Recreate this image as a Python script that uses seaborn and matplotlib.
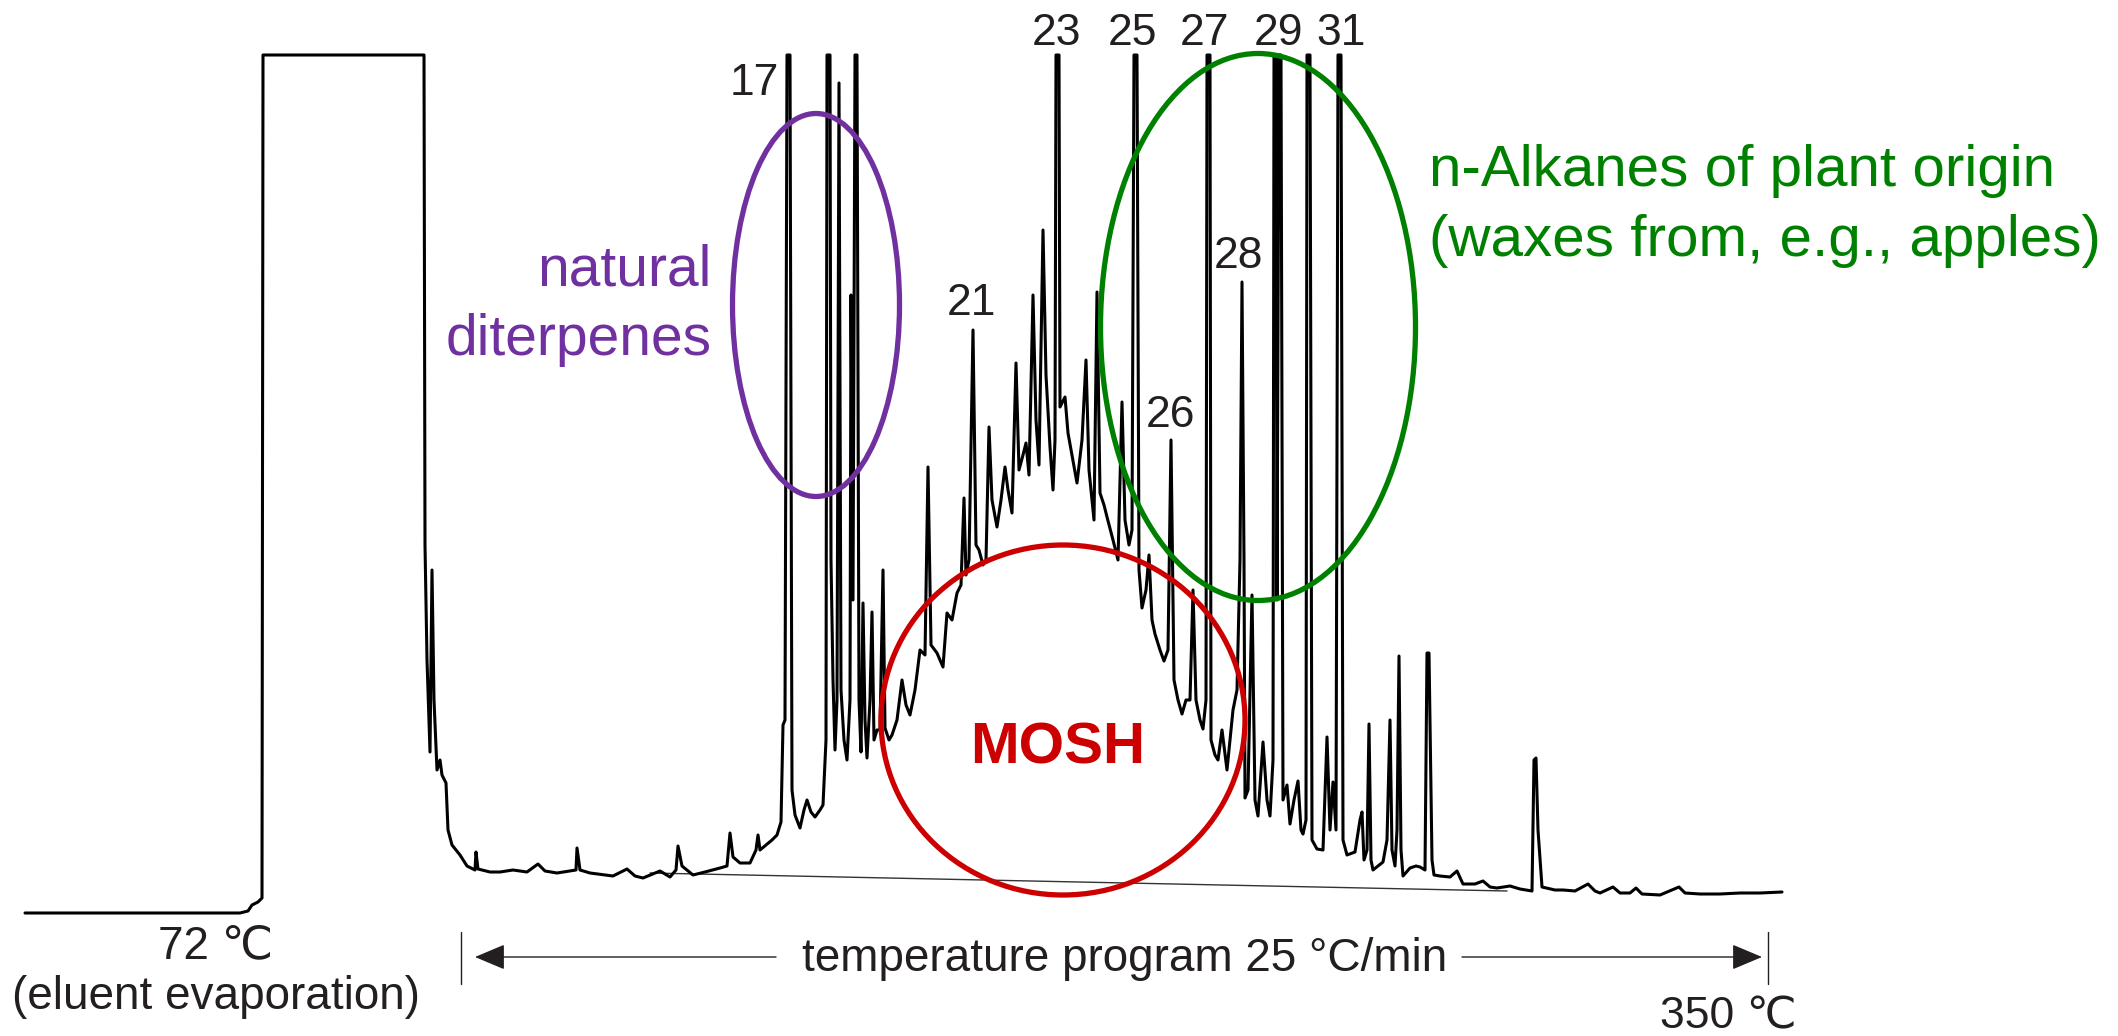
import matplotlib
matplotlib.use("Agg")
import matplotlib.pyplot as plt
import seaborn as sns
import pandas as pd
from matplotlib.patches import Ellipse, FancyArrowPatch

sns.set_theme(style="white")
plt.rcParams["font.family"] = ["Liberation Sans", "DejaVu Sans"]

# ---- chromatogram trace (x: detector scan number, y: detector response, counts) ----
scan = [0, 215, 223, 227, 233, 237, 238, 399, 400, 402, 405, 407, 409, 412, 415, 417, 421, 423,
        427, 435, 442, 450, 451, 453, 465, 475, 488, 502, 513, 520, 532, 551, 552, 555, 565, 588,
        602, 610, 618, 635, 645, 651, 653, 657, 668, 680, 695, 702, 705, 708, 715, 725, 731, 733,
        735, 741, 747, 752, 756, 758, 760, 762, 765, 767, 770, 775, 779, 782, 786, 790, 795, 798,
        801, 802, 805, 806, 808, 810, 812, 814, 816, 819, 822, 825, 826, 828, 830, 832, 834, 836,
        838, 840, 842, 845, 847, 849, 852, 855, 858, 860, 864, 867, 872, 877, 881, 885, 890, 895,
        900, 903, 906, 912, 918, 922, 927, 932, 936, 939, 941, 944, 948, 951, 954, 958, 961, 964,
        967, 972, 976, 980, 983, 987, 991, 994, 998, 1001, 1004, 1008, 1011, 1014, 1018, 1021,
        1025, 1028, 1030, 1031, 1034, 1035, 1040, 1043, 1047, 1052, 1057, 1061, 1064, 1069, 1072,
        1075, 1079, 1082, 1088, 1093, 1097, 1100, 1104, 1107, 1109, 1112, 1114, 1117, 1121, 1124,
        1127, 1130, 1135, 1139, 1143, 1146, 1149, 1153, 1157, 1161, 1165, 1168, 1171, 1175, 1178,
        1181, 1182, 1185, 1186, 1190, 1193, 1197, 1202, 1208, 1212, 1215, 1217, 1219, 1220, 1223,
        1227, 1230, 1233, 1238, 1242, 1245, 1248, 1249, 1251, 1252, 1254, 1256, 1258, 1262, 1265,
        1269, 1273, 1276, 1278, 1281, 1282, 1285, 1287, 1292, 1298, 1302, 1305, 1308, 1311, 1313,
        1316, 1318, 1322, 1330, 1335, 1337, 1339, 1342, 1344, 1346, 1348, 1353, 1358, 1362, 1365,
        1367, 1370, 1372, 1374, 1376, 1378, 1385, 1391, 1395, 1400, 1402, 1404, 1407, 1409, 1415,
        1425, 1432, 1438, 1450, 1458, 1465, 1472, 1485, 1495, 1507, 1509, 1511, 1513, 1517, 1530,
        1538, 1550, 1563, 1570, 1575, 1588, 1595, 1605, 1611, 1617, 1635, 1654, 1660, 1675, 1695,
        1715, 1735, 1757]
resp = [0, 0, 2, 8, 11, 15, 858, 858, 368, 253, 161, 343, 213, 143, 153, 138, 130, 83,
        68, 58, 47, 43, 61, 44, 41, 41, 43, 41, 49, 42, 40, 43, 65, 43, 40, 37,
        44, 37, 35, 42, 36, 43, 67, 47, 38, 41, 45, 47, 80, 56, 50, 50, 63, 78,
        63, 68, 73, 78, 91, 188, 193, 858, 858, 123, 98, 85, 103, 113, 101, 96, 103, 108,
        173, 858, 858, 353, 233, 163, 213, 830, 223, 173, 153, 213, 618, 313, 858, 858, 213, 161,
        310, 193, 155, 213, 301, 173, 183, 183, 343, 185, 173, 178, 193, 233, 208, 198, 223, 263,
        258, 446, 268, 260, 246, 300, 293, 320, 328, 415, 338, 353, 583, 368, 363, 348, 353, 486,
        413, 386, 413, 446, 423, 400, 550, 443, 458, 470, 438, 618, 493, 448, 683, 538,
        466, 423, 473, 858, 858, 506, 516, 480, 458, 430, 473, 553, 443, 393, 621,
        420, 408, 396, 373, 353, 511, 393, 368, 383, 858, 858, 343, 305, 323, 358,
        293, 279, 263, 252, 263, 473, 233, 213, 199, 213, 213, 323, 213, 193, 184,
        213, 858, 858, 173, 158, 153, 183, 143, 203, 223, 353, 631, 353, 115, 123,
        318, 113, 97, 171, 113, 97, 153, 858, 858, 313, 858, 858, 113, 128, 89,
        113, 132, 83, 79, 93, 858, 858, 73, 64, 63, 176, 83, 131, 83, 858,
        858, 73, 58, 61, 93, 101, 53, 63, 189, 53, 43, 47, 51, 73, 193,
        63, 47, 83, 257, 63, 37, 45, 47, 46, 43, 260, 260, 53, 38, 37,
        36, 42, 29, 29, 32, 26, 25, 27, 24, 22, 153, 155, 83, 26, 23,
        23, 22, 29, 22, 20, 26, 20, 20, 25, 19, 18, 26, 20, 19, 19,
        20, 20, 21]

# integration baseline under the hump
baseline_scan = [625, 1482]
baseline_resp = [40, 22]

# n-alkane / peak labels
peak_labels = ["17", "21", "23", "25", "26", "27", "28", "29", "31"]
peak_label_scan = [729, 946, 1032, 1107, 1145, 1179, 1213, 1253, 1316]
peak_label_resp = [818, 598, 868, 868, 486, 868, 645, 868, 868]

df = pd.DataFrame({"scan": scan, "resp": resp})

TXT = "#231f20"
PURPLE = "#7030a0"
GREEN = "#008000"
RED = "#cc0000"

fig = plt.figure(figsize=(21.18, 10.36), dpi=100)
ax = fig.add_axes([0, 0, 1, 1])
ax.set_xlim(-25, 2093)
ax.set_ylim(-123, 913)
ax.axis("off")

sns.lineplot(data=df, x="scan", y="resp", sort=False, estimator=None,
             color="black", linewidth=2.2, ax=ax, zorder=2)
sns.lineplot(x=baseline_scan, y=baseline_resp, sort=False, estimator=None,
             color="#333333", linewidth=1.0, ax=ax, zorder=1)

# highlight ellipses
ax.add_patch(Ellipse((791, 608), 167, 383, fill=False, ec=PURPLE, lw=3.8, zorder=3))
ax.add_patch(Ellipse((1038, 193), 364, 350, fill=False, ec=RED, lw=3.8, zorder=3))
ax.add_patch(Ellipse((1233, 586), 315, 547, fill=False, ec=GREEN, lw=3.8, zorder=3))

for lab, xs, ys in zip(peak_labels, peak_label_scan, peak_label_resp):
    ax.text(xs, ys, lab, ha="center", va="baseline", fontsize=32, color=TXT)

ax.text(687, 627, "natural", ha="right", va="baseline", fontsize=41, color=PURPLE)
ax.text(687, 558, "diterpenes", ha="right", va="baseline", fontsize=41, color=PURPLE)
ax.text(1404, 727, "n-Alkanes of plant origin", ha="left", va="baseline", fontsize=42, color=GREEN)
ax.text(1404, 657, "(waxes from, e.g., apples)", ha="left", va="baseline", fontsize=42, color=GREEN)
ax.text(1033, 150, "MOSH", ha="center", va="baseline", fontsize=42, fontweight="bold", color=RED)

ax.text(191, -45, "72 \u2103", ha="center", va="baseline", fontsize=33, color=TXT)
ax.text(191, -96, "(eluent evaporation)", ha="center", va="baseline", fontsize=33, color=TXT)
ax.text(1100, -58, "temperature program 25 \u00b0C/min", ha="center", va="baseline", fontsize=33, color=TXT)
ax.text(1703, -115, "350 \u2103", ha="center", va="baseline", fontsize=32, color=TXT)

# temperature-program arrow
ax.plot([436, 436], [-19, -71], color=TXT, lw=1.0)
ax.plot([1743, 1743], [-19, -71], color=TXT, lw=1.0)
for start, end in [((751, -44), (450, -44)), ((1437, -44), (1737, -44))]:
    ax.add_patch(FancyArrowPatch(start, end, arrowstyle="-|>,head_length=19,head_width=8",
                                 mutation_scale=1, lw=1.0, color=TXT,
                                 shrinkA=0, shrinkB=0))

fig.savefig("out.png", dpi=100)
